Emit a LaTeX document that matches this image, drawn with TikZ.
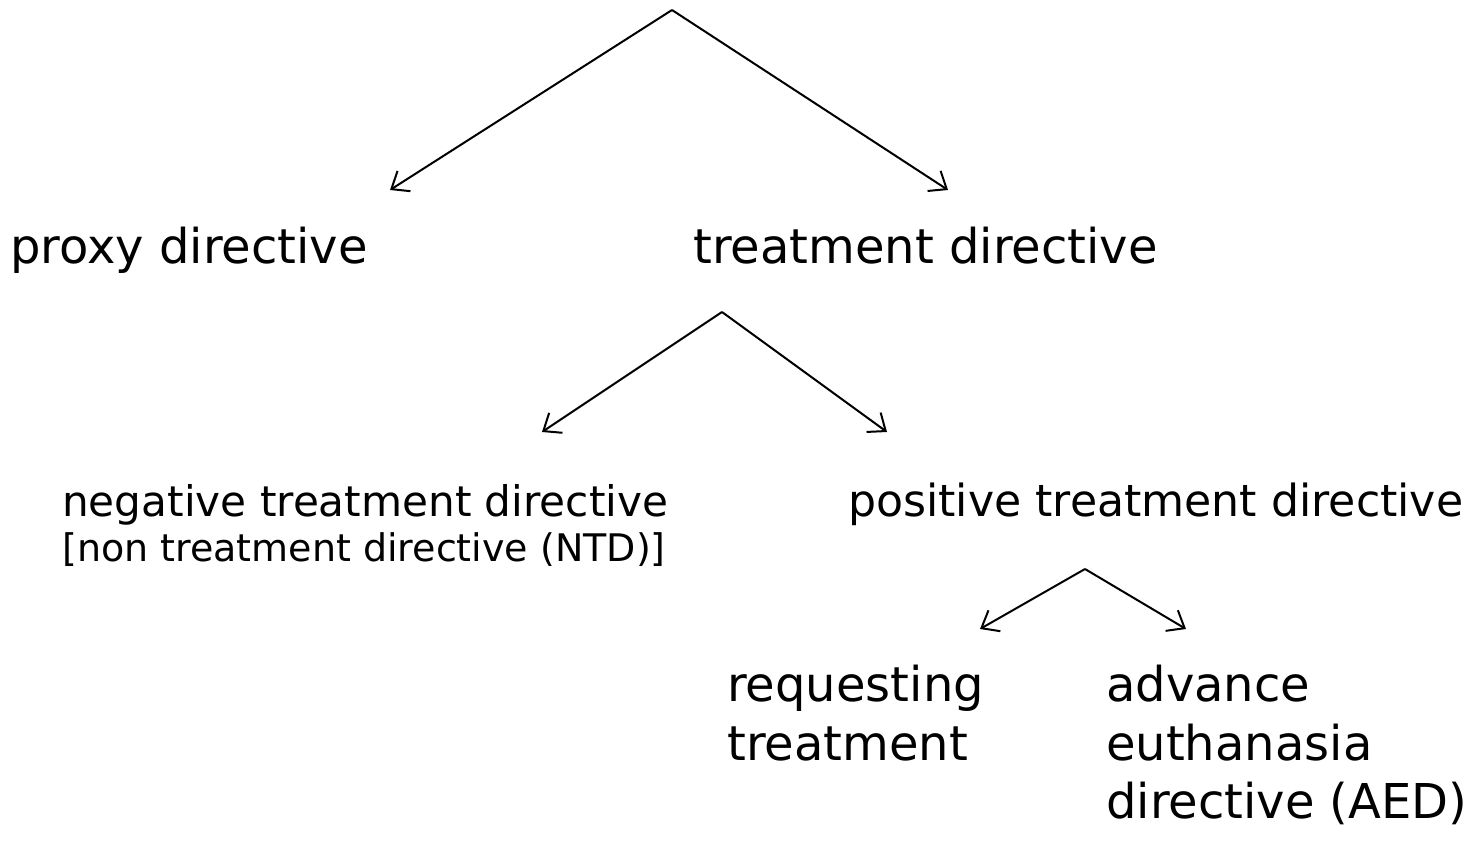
\documentclass[tikz,border=0pt]{standalone}
\usepackage{fontspec}
\usepackage{graphicx}
\setmainfont{DejaVu Sans}
\usetikzlibrary{arrows.meta}
\tikzset{
  lbl/.style={inner sep=0pt, anchor=base west, align=left},
  big/.style={font=\fontsize{48}{59}\selectfont},
  mid/.style={font=\fontsize{43}{50}\selectfont},
  small/.style={font=\fontsize{38}{46}\selectfont},
  conn/.style={line width=2pt, -{Straight Barb[length=15pt,width=24pt,line width=2pt]}}
}
\begin{document}
\begin{tikzpicture}[x=1pt,y=-1pt]
\useasboundingbox (0,0) rectangle (1483,852);
% labels
\node[lbl,big] (proxy) at (10,263) {proxy directive};
\node[lbl,big] (treat) at (693,263) {treatment directive};
\node[lbl,mid] (neg) at (62,516) {\resizebox{606pt}{!}{negative treatment directive}};
\node[lbl,small] (ntd) at (62,561) {[non treatment directive (NTD)]};
\node[lbl,mid] (pos) at (848,516) {\resizebox{615pt}{!}{positive treatment directive}};
\node[lbl,big] (req1) at (727,701) {requesting};
\node[lbl,big] (req2) at (727,760) {treatment};
\node[lbl,big] (aed1) at (1106,701) {advance};
\node[lbl,big] (aed2) at (1106,760) {euthanasia};
\node[lbl,big] (aed3) at (1106,818) {directive (AED)};
% connector points
\coordinate (top) at (672,10);
\coordinate (topL) at (390,190);
\coordinate (topR) at (948,190);
\coordinate (midA) at (722,312);
\coordinate (midL) at (542,432);
\coordinate (midR) at (887,432);
\coordinate (lowA) at (1085,569);
\coordinate (lowL) at (980,629);
\coordinate (lowR) at (1186,629);
\draw[conn] (top) -- (topL);
\draw[conn] (top) -- (topR);
\draw[conn] (midA) -- (midL);
\draw[conn] (midA) -- (midR);
\draw[conn] (lowA) -- (lowL);
\draw[conn] (lowA) -- (lowR);
\end{tikzpicture}
\end{document}
